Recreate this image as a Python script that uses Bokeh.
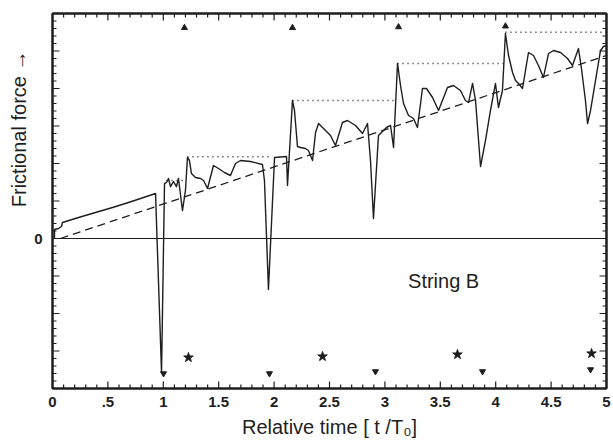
import math
from bokeh.plotting import figure
from bokeh.models import (SingleIntervalTicker, LinearAxis, Range1d, Span, Label,
                          CustomJSTickFormatter, Title)
from bokeh.embed import file_html
from bokeh.resources import INLINE

# ---- data ----
t_curve = [0.018, 0.018, 0.054, 0.081, 0.09, 0.235, 0.388, 0.542, 0.686, 0.93,
           0.984, 1.011, 1.029, 1.047, 1.065, 1.092, 1.119, 1.137, 1.173, 1.2,
           1.218, 1.236, 1.254, 1.291, 1.336, 1.363, 1.399, 1.453, 1.498, 1.552,
           1.606, 1.652, 1.697, 1.787, 1.895, 1.913, 1.949, 1.986, 2.004, 2.112,
           2.121, 2.166, 2.184, 2.211, 2.238, 2.283, 2.31, 2.347, 2.374, 2.401,
           2.446, 2.509, 2.554, 2.617, 2.662, 2.735, 2.798, 2.843, 2.87, 2.897,
           2.942, 3.014, 3.051, 3.078, 3.114, 3.141, 3.168, 3.213, 3.258, 3.294,
           3.339, 3.375, 3.43, 3.484, 3.565, 3.619, 3.682, 3.727, 3.755, 3.791,
           3.818, 3.863, 3.908, 3.953, 3.998, 4.025, 4.061, 4.088, 4.116, 4.152,
           4.179, 4.206, 4.242, 4.269, 4.296, 4.341, 4.386, 4.431, 4.477, 4.522,
           4.585, 4.648, 4.693, 4.747, 4.774, 4.81, 4.829, 4.856, 4.901, 4.946,
           4.973, 5.0]
f_curve = [0.0, 0.12, 0.133, 0.16, 0.213, 0.28, 0.347, 0.413, 0.48, 0.6,
           -1.787, 0.733, 0.747, 0.8, 0.693, 0.76, 0.693, 0.8, 0.373, 0.64,
           1.08, 1.04, 0.867, 0.813, 0.8, 0.773, 0.667, 0.973, 0.933, 0.88,
           0.84, 1.0, 1.04, 1.027, 0.987, 0.773, -0.68, 0.507, 1.08, 1.093,
           0.707, 1.84, 1.707, 1.227, 1.213, 1.2, 1.173, 1.04, 1.413, 1.533,
           1.467, 1.373, 1.24, 1.547, 1.573, 1.507, 1.4, 1.533, 1.04, 0.267,
           1.373, 1.48, 1.507, 1.213, 2.333, 2.04, 1.8, 1.64, 1.6, 1.48,
           2.0, 2.0, 1.88, 1.707, 2.013, 2.04, 1.973, 1.84, 1.813, 2.067,
           1.84, 0.96, 1.307, 1.707, 2.067, 1.747, 1.973, 2.733, 2.44, 2.213,
           2.107, 2.067, 2.0, 2.24, 2.48, 2.44, 2.307, 2.147, 2.467, 2.507,
           2.48, 2.4, 2.307, 2.533, 2.267, 1.84, 1.533, 1.707, 2.107, 2.507,
           2.56, 2.573]

# mean trend (dashed)
t_trend = [0.072, 5.0]
f_trend = [0.0, 2.44]

# running maximum levels (dotted)
max_t0 = [1.029, 1.218, 2.166, 3.114, 4.088]
max_t1 = [1.182, 1.986, 3.096, 4.07, 4.982]
max_f = [0.773, 1.09, 1.84, 2.333, 2.75]

# event markers
up_t = [1.191, 2.166, 3.123, 4.088]
up_f = [2.81, 2.81, 2.82, 2.83]
down_t = [1.002, 1.958, 2.915, 3.881, 4.856]
down_f = [-1.8, -1.8, -1.773, -1.773, -1.747]
star_t = [1.227, 2.437, 3.655, 4.865]
star_f = [-1.587, -1.573, -1.547, -1.533]

# axis extents and tick positions (long ticks every 0.5, short every 0.1)
X_MIN, X_MAX = 0.0, 5.0
Y_MIN, Y_MAX = -2.0, 3.0
x_long_ticks = [0, 0.5, 1, 1.5, 2, 2.5, 3, 3.5, 4, 4.5, 5]
y_long_ticks = [-2, -1.5, -1, -0.5, 0, 0.5, 1, 1.5, 2, 2.5, 3]
x_short_ticks = [round(i / 10, 1) for i in range(0, 51) if i % 5]
y_short_ticks = [round(-2 + i / 10, 1) for i in range(0, 51) if i % 5]

FONT = "Liberation Sans"
INK = "#1e1e1e"

p = figure(width=613, height=441, output_backend="svg", toolbar_location=None,
           x_range=Range1d(X_MIN, X_MAX), y_range=Range1d(Y_MIN, Y_MAX),
           min_border_left=52, min_border_right=7, min_border_top=13,
           min_border_bottom=53, background_fill_color="white",
           border_fill_color="white")
p.grid.visible = False
p.outline_line_color = INK
p.outline_line_width = 2

x_fmt = CustomJSTickFormatter(code="return tick == 0.5 ? '.5' : String(tick);")
y_fmt = CustomJSTickFormatter(code="return Math.abs(tick) < 1e-9 ? '0' : '';")
blank = CustomJSTickFormatter(code="return '';")

def style_axis(ax, fmt, show):
    ax.ticker = SingleIntervalTicker(interval=0.5, num_minor_ticks=0)
    ax.formatter = fmt
    ax.axis_line_color = INK
    ax.axis_line_width = 2
    ax.major_tick_line_color = None
    ax.minor_tick_line_color = None
    ax.major_tick_in = 0
    ax.major_tick_out = 0
    if show:
        ax.major_label_text_font = FONT
        ax.major_label_text_font_size = "15px"
        ax.major_label_text_font_style = "bold"
        ax.major_label_text_color = INK
        ax.major_label_standoff = 8
    else:
        ax.major_label_text_font_size = "0px"
        ax.major_label_standoff = 0

xa = p.xaxis[0]
style_axis(xa, x_fmt, True)
xa.axis_label = "Relative time [ t /T\u2080]"
xa.axis_label_text_font = FONT
xa.axis_label_text_font_size = "20px"
xa.axis_label_text_font_style = "normal"
xa.axis_label_text_color = INK
xa.axis_label_standoff = 6

ya = p.yaxis[0]
style_axis(ya, y_fmt, True)
ya.major_label_standoff = 10

top = LinearAxis()
style_axis(top, blank, False)
p.add_layout(top, "above")
right = LinearAxis()
style_axis(right, blank, False)
p.add_layout(right, "right")

# inward ticks on all four sides, drawn as dashes clipped by the frame edge
for ticks, size in ((x_long_ticks, 14), (x_short_ticks, 8)):
    n = len(ticks)
    p.scatter(ticks * 2, [Y_MIN] * n + [Y_MAX] * n, marker="dash",
              angle=math.pi / 2, size=size, line_color=INK, line_width=1.2)
for ticks, size in ((y_long_ticks, 14), (y_short_ticks, 8)):
    n = len(ticks)
    p.scatter([X_MIN] * n + [X_MAX] * n, ticks * 2, marker="dash",
              size=size, line_color=INK, line_width=1.2)

# y axis title, placed toward the top as in the original
p.add_layout(Title(text="Frictional force \u2192", align="right", offset=37,
                   text_font=FONT, text_font_size="20px",
                   text_font_style="normal", text_color=INK, standoff=4), "left")

# zero line
p.add_layout(Span(location=0, dimension="width", line_color=INK, line_width=1.2))

# trend and maxima
p.line(t_trend, f_trend, line_color=INK, line_width=1.3, line_dash="8 5")
p.segment(x0=max_t0, x1=max_t1, y0=max_f, y1=max_f, line_color=INK,
          line_width=1.6, line_dash="1 4")

# measured friction curve
p.line(t_curve, f_curve, line_color=INK, line_width=1.4, line_join="round")

# markers
p.scatter(up_t, up_f, marker="triangle", size=6, fill_color=INK, line_color=INK)
p.scatter(down_t, down_f, marker="inverted_triangle", size=6, fill_color=INK, line_color=INK)
p.scatter(star_t, star_f, marker="star", size=10, fill_color=INK, line_color=INK)

p.add_layout(Label(x=3.53, y=-0.57, text="String B", text_font=FONT,
                   text_font_size="20px", text_color=INK, text_align="center",
                   text_baseline="middle"))

open("out.html", "w").write(file_html(p, INLINE))
